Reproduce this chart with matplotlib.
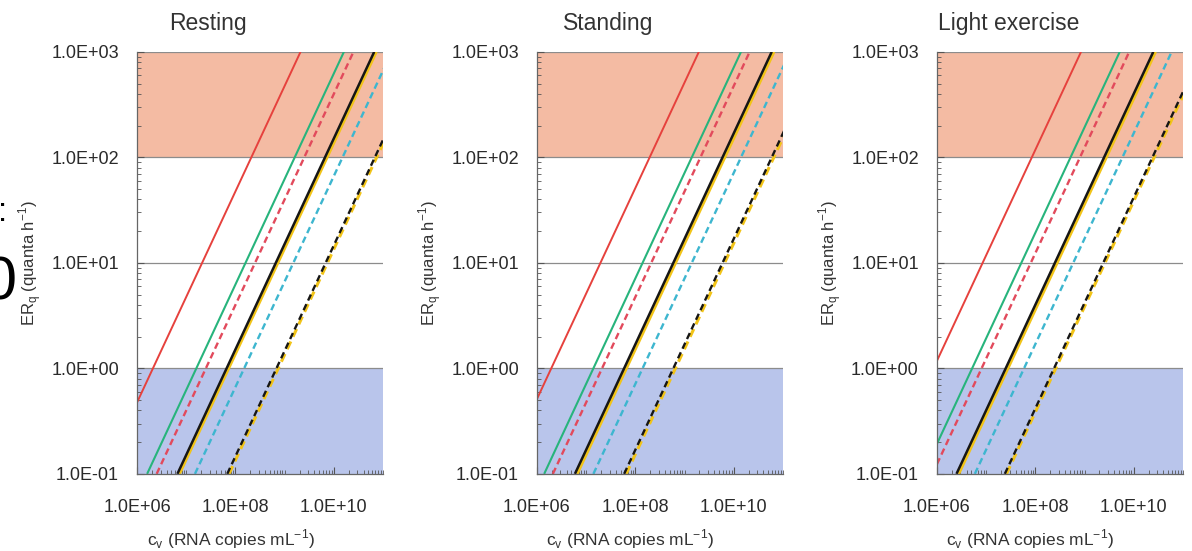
import matplotlib.pyplot as plt
import matplotlib.ticker as mticker

plt.rcParams["font.family"] = ["Liberation Sans", "DejaVu Sans"]

Activities = ["Resting", "Standing", "Light exercise"]

# ER_q values where every curve enters (bottom) and leaves (top) the plot
ER_ends = [1.0e-1, 1.0e3]

# c_v (RNA copies mL-1) reached at ER_q = 0.1 and ER_q = 1000, one pair per curve
# curve order: red, green, red dashed, yellow, black, cyan dashed, yellow dashed, black dashed
Resting_cv = [
    [2.1e5, 2.1e9],
    [1.6e6, 1.6e10],
    [2.5e6, 2.5e10],
    [7.2e6, 7.2e10],
    [6.6e6, 6.6e10],
    [1.5e7, 1.5e11],
    [7.4e7, 7.4e11],
    [6.8e7, 6.8e11],
]
Standing_cv = [
    [1.95e5, 1.95e9],
    [1.4e6, 1.4e10],
    [2.1e6, 2.1e10],
    [6.5e6, 6.5e10],
    [5.9e6, 5.9e10],
    [1.4e7, 1.4e11],
    [6.5e7, 6.5e11],
    [5.9e7, 5.9e11],
]
Exercise_cv = [
    [8.5e4, 8.5e8],
    [5.2e5, 5.2e9],
    [8.1e5, 8.1e9],
    [2.75e6, 2.75e10],
    [2.5e6, 2.5e10],
    [5.9e6, 5.9e10],
    [2.6e7, 2.6e11],
    [2.4e7, 2.4e11],
]
Panel_cv = [Resting_cv, Standing_cv, Exercise_cv]

X_range = [1.0e6, 1.0e11]
Y_range = [1.0e-1, 1.0e3]
High_band = [1.0e2, 1.0e3]
Low_band = [1.0e-1, 1.0e0]

DASH = (0, (2.8, 1.7))
Styles = [
    dict(color="#e6413d", lw=1.4, ls="-"),
    dict(color="#27b47c", lw=1.5, ls="-"),
    dict(color="#e24a5c", lw=1.7, ls=DASH),
    dict(color="#f2c418", lw=2.4, ls="-"),
    dict(color="#161616", lw=1.8, ls="-"),
    dict(color="#3db6cf", lw=1.7, ls=DASH),
    dict(color="#f2c418", lw=2.2, ls=DASH),
    dict(color="#161616", lw=1.7, ls=DASH),
]


def SciFmt(v, pos):
    return f"{v:.1E}"


fig = plt.figure(figsize=(11.92, 5.51), dpi=100)
lefts = [0.115, 0.4505, 0.786]

for i, act in enumerate(Activities):
    ax = fig.add_axes([lefts[i], 0.14, 0.2064, 0.766])
    ax.set_xscale("log")
    ax.set_yscale("log")
    ax.set_xlim(X_range)
    ax.set_ylim(Y_range)

    ax.axhspan(High_band[0], High_band[1], color="#f4bba3", lw=0, zorder=0)
    ax.axhspan(Low_band[0], Low_band[1], color="#b9c5eb", lw=0, zorder=0)
    for yv in [1.0e0, 1.0e1, 1.0e2, 1.0e3]:
        ax.axhline(yv, color="#8c8c8c", lw=0.9, zorder=1)

    for k, cv in enumerate(Panel_cv[i]):
        st = Styles[k]
        ax.plot(cv, ER_ends, color=st["color"], lw=st["lw"], ls=st["ls"],
                zorder=2, solid_capstyle="butt")

    ax.xaxis.set_major_locator(mticker.FixedLocator([1e6, 1e8, 1e10]))
    ax.xaxis.set_minor_locator(
        mticker.LogLocator(base=10, subs=[1, 2, 3, 4, 5, 6, 7, 8, 9], numticks=20)
    )
    ax.yaxis.set_major_locator(mticker.LogLocator(base=10, numticks=10))
    ax.yaxis.set_minor_locator(
        mticker.LogLocator(base=10, subs=[2, 3, 4, 5, 6, 7, 8, 9], numticks=20)
    )
    ax.xaxis.set_major_formatter(mticker.FuncFormatter(SciFmt))
    ax.yaxis.set_major_formatter(mticker.FuncFormatter(SciFmt))
    ax.xaxis.set_minor_formatter(mticker.NullFormatter())
    ax.yaxis.set_minor_formatter(mticker.NullFormatter())

    ax.tick_params(which="both", direction="in", color="#555555",
                   labelsize=13, labelcolor="#2a2a2a")
    ax.tick_params(which="major", length=5, width=0.8)
    ax.tick_params(which="minor", length=3, width=0.6)
    ax.tick_params(axis="x", which="major", pad=18)
    ax.tick_params(axis="y", which="major", pad=13)

    for side in ["top", "right"]:
        ax.spines[side].set_visible(False)
    for side in ["left", "bottom"]:
        ax.spines[side].set_color("#666666")
        ax.spines[side].set_linewidth(0.9)

    ax.text(0.29, 1.068, act, transform=ax.transAxes, ha="center", va="center",
            fontsize=16.5, color="#333333")
    ax.set_xlabel(r"c$_\mathregular{v}$ (RNA copies mL$^\mathregular{-1}$)",
                  fontsize=12.5, color="#333333")
    ax.xaxis.set_label_coords(0.38, -0.128)
    ax.set_ylabel(r"ER$_\mathregular{q}$ (quanta h$^\mathregular{-1}$)",
                  fontsize=12, color="#333333")
    ax.yaxis.set_label_coords(-0.378, 0.5)

# panel markers cut by the left border
fig.text(0.0, 0.485, "0", fontsize=44, ha="center", va="center", color="black")
fig.text(0.002, 0.615, ":", fontsize=24, ha="center", va="center", color="black")

fig.savefig("out.png", dpi=100)
